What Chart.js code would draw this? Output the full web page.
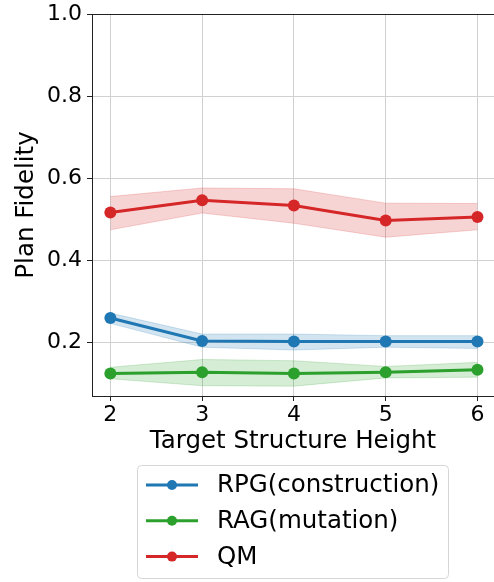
<!DOCTYPE html>
<html>
<head>
<meta charset="utf-8">
<script src="https://cdn.jsdelivr.net/npm/chart.js@4"></script>
<style>
  html, body { margin: 0; padding: 0; background: #fff; }
  #wrap { width: 494px; height: 582px; position: relative; }
</style>
</head>
<body>
<div id="wrap"><canvas id="grafico"></canvas></div>
<script>
// valores
const heights = [2, 3, 4, 5, 6];
const yTicks = [0.2, 0.4, 0.6, 0.8, 1.0];

const rpgMean = [0.259, 0.203, 0.202, 0.202, 0.202];
const rpgLow  = [0.246, 0.188, 0.181, 0.188, 0.185];
const rpgHigh = [0.271, 0.220, 0.220, 0.216, 0.216];

const ragMean = [0.124, 0.127, 0.124, 0.127, 0.133];
const ragLow  = [0.111, 0.094, 0.093, 0.113, 0.115];
const ragHigh = [0.139, 0.158, 0.155, 0.141, 0.151];

const qmMean = [0.516, 0.546, 0.533, 0.497, 0.505];
const qmLow  = [0.474, 0.515, 0.490, 0.456, 0.474];
const qmHigh = [0.555, 0.576, 0.574, 0.539, 0.538];

const series = [
    { label: 'RPG(construction)', mean: rpgMean, low: rpgLow, high: rpgHigh, rgb: '31, 119, 180' },
    { label: 'RAG(mutation)', mean: ragMean, low: ragLow, high: ragHigh, rgb: '44, 160, 44' },
    { label: 'QM', mean: qmMean, low: qmLow, high: qmHigh, rgb: '214, 39, 40' },
];

const pts = (arr) => heights.map((h, i) => ({ x: h, y: arr[i] }));
const FONT = 'DejaVu Sans';

const datasets = [];
series.forEach((s) => {
    datasets.push({
        label: s.label,
        data: pts(s.mean),
        borderColor: `rgb(${s.rgb})`,
        backgroundColor: `rgb(${s.rgb})`,
        borderWidth: 3,
        pointRadius: 6,
        pointBorderWidth: 0,
        fill: false,
        order: 0,
        legenda: true
    });
});
series.forEach((s) => {
    const idxHigh = datasets.length;
    datasets.push({
        label: '',
        data: pts(s.high),
        borderColor: `rgba(${s.rgb}, 0.2)`,
        backgroundColor: `rgba(${s.rgb}, 0.2)`,
        borderWidth: 1,
        pointRadius: 0,
        fill: { target: idxHigh + 1 },
        order: 1
    });
    datasets.push({
        label: '',
        data: pts(s.low),
        borderColor: `rgba(${s.rgb}, 0.2)`,
        backgroundColor: 'transparent',
        borderWidth: 1,
        pointRadius: 0,
        fill: false,
        order: 1
    });
});

// moldura (spines) e legenda desenhadas à mão
const molduraPlugin = {
    id: 'moldura',
    afterDraw(chart) {
        const ctx = chart.ctx;
        const a = chart.chartArea;
        ctx.save();
        ctx.strokeStyle = '#222';
        ctx.lineWidth = 1;
        ctx.beginPath();
        ctx.moveTo(a.left, a.top + 0.5);
        ctx.lineTo(a.right, a.top + 0.5);
        ctx.stroke();

        // legenda
        const box = { x: 137.5, y: 465.5, w: 311, h: 113 };
        ctx.fillStyle = 'rgba(255,255,255,0.8)';
        ctx.strokeStyle = '#d6d6d6';
        ctx.beginPath();
        ctx.roundRect(box.x, box.y, box.w, box.h, 4);
        ctx.fill();
        ctx.stroke();

        const itens = chart.data.datasets.filter((d) => d.legenda);
        ctx.font = `24.5px "${FONT}"`;
        ctx.textBaseline = 'middle';
        itens.forEach((d, i) => {
            const y = 485 + i * 35.8;
            ctx.strokeStyle = d.borderColor;
            ctx.lineWidth = 3;
            ctx.beginPath();
            ctx.moveTo(146, y);
            ctx.lineTo(198, y);
            ctx.stroke();
            ctx.fillStyle = d.borderColor;
            ctx.beginPath();
            ctx.arc(172, y, 5, 0, Math.PI * 2);
            ctx.fill();
            ctx.fillStyle = '#000';
            ctx.fillText(d.label, 217, y + 1);
        });
        ctx.restore();
    }
};

new Chart(document.getElementById('grafico').getContext('2d'), {
    type: 'line',
    data: { datasets },
    options: {
        responsive: true,
        maintainAspectRatio: false,
        animation: false,
        layout: { autoPadding: false, padding: { top: 14, left: 0, right: 0, bottom: 126 } },
        plugins: {
            legend: { display: false },
            tooltip: { enabled: false }
        },
        scales: {
            x: {
                type: 'linear',
                min: 1.8,
                max: 6.18,
                afterBuildTicks: (scale) => { scale.ticks = heights.map((v) => ({ value: v })); },
                afterFit: (scale) => {
                    scale.height = 60;
                    scale.paddingLeft = 0;
                    scale.paddingRight = 0;
                },
                border: { color: '#222', width: 1 },
                grid: { color: '#d0d0d0', tickColor: '#222', tickLength: 5, lineWidth: 1 },
                ticks: {
                    color: '#000',
                    padding: 1,
                    font: { family: FONT, size: 22 },
                    callback: (v) => String(v)
                },
                title: {
                    display: true,
                    text: 'Target Structure Height',
                    color: '#000',
                    font: { family: FONT, size: 24.5 },
                    padding: { top: 0, bottom: 0 }
                }
            },
            y: {
                min: 0.069,
                max: 1.0,
                afterBuildTicks: (scale) => { scale.ticks = yTicks.map((v) => ({ value: v })); },
                afterFit: (scale) => {
                    scale.width = 92;
                    scale.paddingTop = 0;
                    scale.paddingBottom = 0;
                },
                border: { color: '#222', width: 1 },
                grid: { color: '#d0d0d0', tickColor: '#222', tickLength: 5, lineWidth: 1 },
                ticks: {
                    color: '#000',
                    padding: 5,
                    font: { family: FONT, size: 22 },
                    callback: (v) => v.toFixed(1)
                },
                title: {
                    display: true,
                    text: 'Plan Fidelity',
                    color: '#000',
                    font: { family: FONT, size: 24.5 },
                    padding: { top: 12, bottom: 0 }
                }
            }
        }
    },
    plugins: [molduraPlugin]
});
</script>
</body>
</html>
